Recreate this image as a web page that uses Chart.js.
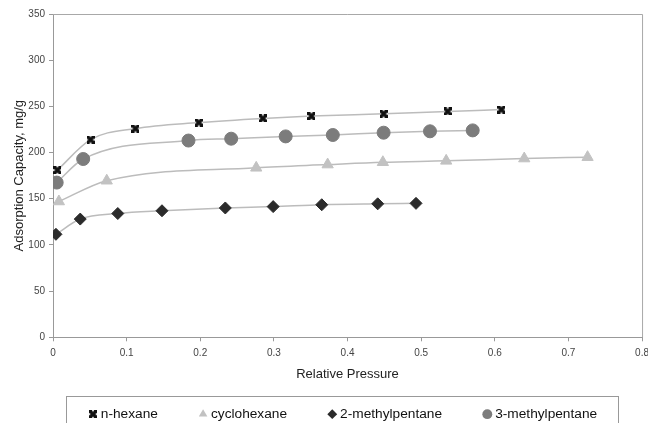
<!DOCTYPE html>
<html>
<head>
<meta charset="utf-8">
<script src="https://cdn.jsdelivr.net/npm/chart.js@4.4.1/dist/chart.umd.min.js"></script>
<style>
  html, body { margin: 0; padding: 0; background: #fff; overflow: hidden; }
  #wrap { width: 648px; height: 423px; overflow: hidden; }
</style>
</head>
<body>
<div id="wrap"><canvas id="isoChart" width="655" height="423"></canvas></div>
<script>
// values (relative pressure vs mg/g)
const hexaneX = [0.006, 0.051, 0.112, 0.198, 0.285, 0.351, 0.449, 0.536, 0.609];
const hexaneY = [181, 214, 226, 232.5, 237, 239.5, 242, 244.5, 246.5];

const cyclohexaneX = [0.008, 0.073, 0.276, 0.373, 0.448, 0.534, 0.640, 0.726];
const cyclohexaneY = [147, 169.5, 183.5, 187, 189.5, 191, 193.5, 195];

const methyl2X = [0.004, 0.037, 0.088, 0.148, 0.234, 0.299, 0.365, 0.441, 0.493];
const methyl2Y = [111.5, 128, 134, 137, 140, 141.5, 143.5, 144.5, 145];

const methyl3X = [0.005, 0.041, 0.184, 0.242, 0.316, 0.380, 0.449, 0.512, 0.570];
const methyl3Y = [167.5, 193, 213, 215, 217.5, 219, 221.5, 223, 224];

const seriesNames = ['n-hexane', 'cyclohexane', '2-methylpentane', '3-methylpentane'];
const xTickLabels = ['0', '0.1', '0.2', '0.3', '0.4', '0.5', '0.6', '0.7', '0.8'];
const yTickLabels = ['0', '50', '100', '150', '200', '250', '300', '350'];

function toPoints(xs, ys) {
  return xs.map((x, i) => ({ x: x, y: ys[i] }));
}

// excel style "x in a square" marker for n-hexane
function hexMarker() {
  const c = document.createElement('canvas');
  c.width = 8; c.height = 8;
  const g = c.getContext('2d');
  g.fillStyle = '#111';
  g.fillRect(0, 0, 8, 8);
  g.fillStyle = '#fff';
  g.beginPath(); g.moveTo(2.8, 0); g.lineTo(5.2, 0); g.lineTo(4, 1.8); g.fill();
  g.beginPath(); g.moveTo(2.8, 8); g.lineTo(5.2, 8); g.lineTo(4, 6.2); g.fill();
  g.beginPath(); g.moveTo(0, 2.8); g.lineTo(0, 5.2); g.lineTo(1.8, 4); g.fill();
  g.beginPath(); g.moveTo(8, 2.8); g.lineTo(8, 5.2); g.lineTo(6.2, 4); g.fill();
  return c;
}

const lineColor = '#bcbcbc';

function series(label, pts, style, color, radius) {
  return {
    label: label,
    data: pts,
    showLine: true,
    borderColor: lineColor,
    borderWidth: 1.5,
    cubicInterpolationMode: 'monotone',
    pointStyle: style,
    pointRadius: radius,
    pointHoverRadius: radius,
    pointBackgroundColor: color,
    pointBorderColor: color,
    pointBorderWidth: 1,
    backgroundColor: color
  };
}

const frame = {
  id: 'frame',
  afterLayout(chart) {
    // legend sits a little left of the plot centre in the original
    const a = chart.chartArea;
    chart.legend.left = a.left - 3;
    chart.legend.right = a.right - 3;
  },
  afterDraw(chart) {
    const ctx = chart.ctx;
    const a = chart.chartArea;
    ctx.save();
    ctx.strokeStyle = '#a8a8a8';
    ctx.lineWidth = 1;
    ctx.beginPath();
    ctx.moveTo(a.left, a.top + 0.5);
    ctx.lineTo(a.right + 0.5, a.top + 0.5);
    ctx.lineTo(a.right + 0.5, a.bottom);
    ctx.stroke();

    // legend box
    const mid = (a.left + a.right) / 2 - 6;
    ctx.strokeStyle = '#999';
    ctx.strokeRect(Math.round(mid - 276) + 0.5, 396.5, 552, 40);
    ctx.restore();
  }
};

new Chart(document.getElementById('isoChart'), {
  type: 'scatter',
  data: {
    datasets: [
      series(seriesNames[0], toPoints(hexaneX, hexaneY), hexMarker(), '#111', 4.5),
      series(seriesNames[1], toPoints(cyclohexaneX, cyclohexaneY), 'triangle', '#c2c2c2', 6.5),
      series(seriesNames[2], toPoints(methyl2X, methyl2Y), 'rectRot', '#2b2b2b', 6),
      series(seriesNames[3], toPoints(methyl3X, methyl3Y), 'circle', '#7c7c7c', 6.5)
    ]
  },
  options: {
    responsive: false,
    animation: false,
    layout: { padding: { top: 14, right: 0, bottom: -8, left: 0 } },
    plugins: {
      tooltip: { enabled: false },
      legend: {
        position: 'bottom',
        labels: {
          usePointStyle: true,
          boxWidth: 2,
          boxHeight: 7,
          padding: 10,
          color: '#111',
          font: { family: 'Liberation Sans, Arial', size: 13.7 },
          generateLabels(chart) {
            const items = Chart.defaults.plugins.legend.labels.generateLabels(chart);
            items.forEach((it, i) => {
              if (i < items.length - 1) it.text = it.text + '         ';
              it.lineWidth = 0;
            });
            return items;
          }
        }
      }
    },
    scales: {
      x: {
        type: 'linear',
        min: 0,
        max: 0.8,
        afterFit(s) { s.height = 60; },
        ticks: {
          stepSize: 0.1,
          color: '#444',
          padding: 6,
          font: { family: 'Liberation Sans, Arial', size: 10 },
          callback: (v, i) => xTickLabels[i]
        },
        grid: { display: true, drawOnChartArea: false, drawTicks: true, tickLength: 4, color: '#999' },
        border: { color: '#999' },
        title: {
          display: true,
          text: 'Relative Pressure',
          color: '#222',
          padding: { top: 8, bottom: 15 },
          font: { family: 'Liberation Sans, Arial', size: 13 }
        }
      },
      y: {
        min: 0,
        max: 350,
        afterFit(s) { s.width = 53; },
        ticks: {
          stepSize: 50,
          color: '#444',
          padding: 4,
          font: { family: 'Liberation Sans, Arial', size: 10 },
          callback: (v, i) => yTickLabels[i]
        },
        grid: { display: true, drawOnChartArea: false, drawTicks: true, tickLength: 4, color: '#999' },
        border: { color: '#999' },
        title: {
          display: true,
          text: 'Adsorption Capacity, mg/g',
          color: '#222',
          padding: { top: 12, bottom: 4 },
          font: { family: 'Liberation Sans, Arial', size: 13 }
        }
      }
    }
  },
  plugins: [frame]
});
</script>
</body>
</html>
